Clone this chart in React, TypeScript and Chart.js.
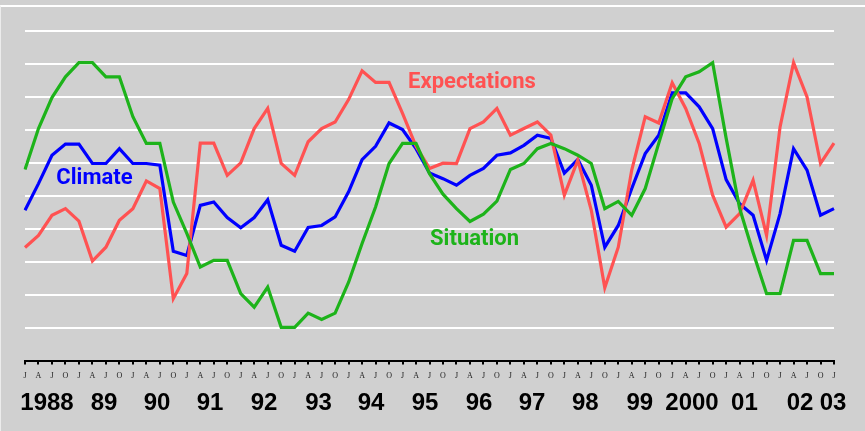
import React, { useEffect, useRef } from "react";
import { Chart, registerables } from "chart.js";

Chart.register(...registerables);

// Quarterly tick letters, Jan 1988 .. Jan 2003
const quarterLabels = [
  "J", "A", "J", "O", "J", "A", "J", "O", "J", "A", "J", "O", "J", "A", "J", "O",
  "J", "A", "J", "O", "J", "A", "J", "O", "J", "A", "J", "O", "J", "A", "J", "O",
  "J", "A", "J", "O", "J", "A", "J", "O", "J", "A", "J", "O", "J", "A", "J", "O",
  "J", "A", "J", "O", "J", "A", "J", "O", "J", "A", "J", "O", "J",
];

const yearLabels = ["1988", "89", "90", "91", "92", "93", "94", "95", "96", "97", "98", "99", "2000", "01", "02", "03"];
const yearTickPositions = [1.63, 5.86, 9.79, 13.72, 17.73, 21.77, 25.66, 29.67, 33.67, 37.6, 41.55, 45.6, 49.47, 53.36, 57.48, 59.93];

const climate = [
  45.6, 53.7, 62.3, 65.7, 65.7, 59.8, 59.8, 64.3, 59.8, 59.8, 59.3,
  33.2, 31.9, 47.1, 48.1, 43.4, 40.3, 43.4, 48.8, 35.0, 33.2,
  40.4, 41.0, 43.6, 51.2, 61.0, 65.0, 72.1, 70.1, 64.3, 56.9,
  55.2, 53.2, 56.2, 58.3, 62.3, 63.0, 65.3, 68.4, 67.4, 56.9,
  61.0, 53.2, 34.4, 41.0, 52.2, 62.8, 68.4, 81.2, 81.2, 77.0,
  70.4, 54.9, 47.6, 44.1, 30.4, 44.6, 64.3, 57.8, 44.1, 46.1,
];

const expectations = [
  34.3, 38.0, 44.1, 46.1, 42.3, 30.2, 34.4, 42.6, 46.1, 54.5, 52.2,
  18.8, 26.4, 66.0, 66.0, 56.2, 60.0, 70.4, 76.5, 59.8, 56.2,
  66.4, 70.4, 72.4, 79.2, 87.9, 84.4, 84.4, 75.0, 65.0, 58.3,
  59.9, 59.8, 70.4, 72.4, 76.5, 68.4, 70.4, 72.4, 68.4, 50.2,
  60.8, 45.6, 22.1, 34.4, 57.8, 74.0, 72.1, 84.3, 76.5, 65.9,
  50.2, 40.5, 44.6, 54.7, 38.0, 70.9, 90.4, 80.0, 59.8, 66.0,
];

const situation = [
  58.0, 70.4, 79.8, 86.1, 90.4, 90.4, 86.1, 86.1, 74.0, 65.9, 65.9,
  48.1, 38.6, 28.4, 30.4, 30.4, 20.3, 16.2, 22.3, 10.1, 10.1,
  14.4, 12.5, 14.4, 23.8, 35.5, 46.6, 59.8, 65.9, 65.9, 56.7,
  50.5, 46.1, 42.2, 44.4, 48.4, 58.0, 59.8, 64.3, 65.9, 64.3,
  62.3, 59.8, 46.1, 48.3, 44.1, 52.2, 65.9, 79.5, 86.1, 87.6,
  90.4, 67.5, 46.2, 32.8, 20.3, 20.3, 36.5, 36.5, 26.4, 26.4,
];

const BLUE = "#0000ff";
const RED = "#ff5252";
const GREEN = "#1db31a";
const BG = "#d0d0d0";

const seriesLabels = [
  { text: "Climate", x: 5.15, y: 55.3, color: BLUE },
  { text: "Expectations", x: 33.15, y: 84.4, color: RED },
  { text: "Situation", x: 33.34, y: 36.8, color: GREEN },
];

const labelPlugin = {
  id: "seriesLabels",
  afterDatasetsDraw(chart: any) {
    const { ctx, scales } = chart;
    ctx.save();
    ctx.font = "bold 22px Roboto";
    ctx.textAlign = "center";
    ctx.textBaseline = "middle";
    for (const l of seriesLabels) {
      ctx.fillStyle = l.color;
      ctx.fillText(l.text, scales.x.getPixelForValue(l.x), scales.y.getPixelForValue(l.y));
    }
    ctx.restore();
  },
};

export default function App() {
  const ref = useRef<HTMLCanvasElement>(null);
  useEffect(() => {
    const ds = (label: string, data: number[], color: string) => ({
      label,
      data,
      borderColor: color,
      backgroundColor: color,
      borderWidth: 3.2,
      pointRadius: 0,
      tension: 0,
      fill: false,
    });
    const chart = new Chart(ref.current as HTMLCanvasElement, {
      type: "line",
      data: {
        labels: quarterLabels,
        datasets: [
          ds("Situation", situation, GREEN),
          ds("Expectations", expectations, RED),
          ds("Climate", climate, BLUE),
        ],
      },
      options: {
        responsive: false,
        animation: false,
        devicePixelRatio: 1,
        layout: { padding: { left: 25, right: 31, top: 31, bottom: 12 } },
        plugins: { legend: { display: false }, tooltip: { enabled: false } },
        scales: {
          x: {
            type: "category",
            position: "bottom",
            weight: 0,
            grid: { drawOnChartArea: false, drawTicks: true, tickLength: 4, color: "#000", lineWidth: 2 },
            border: { display: true, color: "#000", width: 2 },
            ticks: {
              autoSkip: false,
              maxRotation: 0,
              padding: 7,
              color: "#222",
              font: { family: "Liberation Serif", size: 8 },
            },
          },
          x2: {
            type: "linear",
            position: "bottom",
            weight: 1,
            min: 0,
            max: 60,
            afterBuildTicks: (s: any) => {
              s.ticks = yearTickPositions.map((v) => ({ value: v }));
            },
            grid: { display: false, drawTicks: false },
            border: { display: false },
            ticks: {
              autoSkip: false,
              maxRotation: 0,
              padding: 1,
              color: "#000",
              font: { family: "Liberation Sans", size: 24, weight: "bold" },
              callback: (_v: any, i: number) => yearLabels[i],
            },
          },
          y: {
            min: 0,
            max: 100,
            ticks: { display: false, stepSize: 10 },
            grid: {
              color: (c: any) => (c.tick && c.tick.value === 0 ? "rgba(0,0,0,0)" : "#ffffff"),
              lineWidth: 2,
              drawTicks: false,
            },
            border: { display: false },
          },
        },
      } as any,
      plugins: [labelPlugin],
    });
    return () => chart.destroy();
  }, []);

  return (
    <div style={{ position: "fixed", left: 0, top: 0, width: 865, height: 431, background: BG, overflow: "hidden" }}>
      <div
        style={{
          position: "absolute",
          left: 0,
          top: 5,
          width: 865,
          height: 426,
          borderTop: "2px solid #ffffff",
          borderLeft: "1px solid #ececec",
          boxSizing: "border-box",
        }}
      />
      <canvas ref={ref} width={865} height={431} style={{ position: "absolute", left: 0, top: 0, display: "block" }} />
    </div>
  );
}
